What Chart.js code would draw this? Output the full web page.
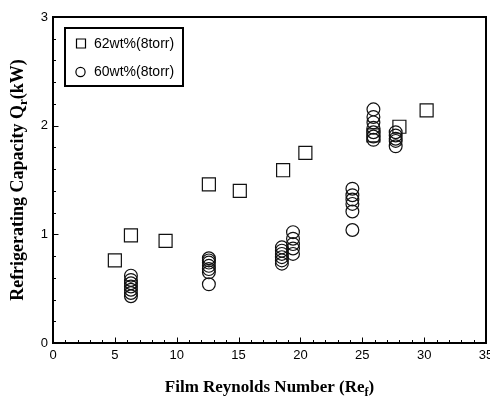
<!DOCTYPE html>
<html>
<head>
<meta charset="utf-8">
<script src="https://cdn.jsdelivr.net/npm/chart.js@4"></script>
<style>
  html, body { margin: 0; padding: 0; background: #fff; }
</style>
</head>
<body>
<canvas id="capacityChart" width="490" height="399"></canvas>
<script>
// 62wt% (8 torr) - squares
const re62 = [5.0, 6.3, 9.1, 12.6, 15.1, 18.6, 20.4, 25.9, 28.0, 30.2];
const q62 = [0.76, 0.99, 0.94, 1.46, 1.40, 1.59, 1.75, 1.91, 1.99, 2.14];

// 60wt% (8 torr) - circles
const re60 = [
  6.3, 6.3, 6.3, 6.3, 6.3, 6.3, 6.3,
  12.6, 12.6, 12.6, 12.6, 12.6, 12.6, 12.6,
  18.5, 18.5, 18.5, 18.5, 18.5, 18.5,
  19.4, 19.4, 19.4, 19.4, 19.4,
  24.2, 24.2, 24.2, 24.2, 24.2, 24.2,
  25.9, 25.9, 25.9, 25.9, 25.9, 25.9, 25.9,
  27.7, 27.7, 27.7, 27.7, 27.7
];
const q60 = [
  0.62, 0.58, 0.55, 0.52, 0.49, 0.46, 0.43,
  0.78, 0.76, 0.74, 0.71, 0.68, 0.65, 0.54,
  0.88, 0.85, 0.82, 0.79, 0.76, 0.73,
  1.02, 0.96, 0.91, 0.87, 0.82,
  1.42, 1.36, 1.32, 1.28, 1.21, 1.04,
  2.15, 2.08, 2.03, 1.98, 1.94, 1.90, 1.87,
  1.94, 1.91, 1.88, 1.86, 1.81
];

const seriesLabels = ["62wt%(8torr)", "60wt%(8torr)"];
const xTickStep = 5;
const yTickStep = 1;

const sansFont = "'Liberation Sans', Arial, sans-serif";
const serifFont = "'Liberation Serif', 'Times New Roman', serif";

function toPoints(xs, ys) {
  return xs.map((x, i) => ({ x: x, y: ys[i] }));
}

// frame, inward ticks, legend box and axis titles with subscripts
const decorations = {
  id: "decorations",
  afterDraw(chart) {
    const ctx = chart.ctx;
    const area = chart.chartArea;
    const xs = chart.scales.x;
    const ys = chart.scales.y;
    ctx.save();
    ctx.strokeStyle = "#000";

    // ticks
    ctx.lineWidth = 1;
    ctx.beginPath();
    for (let v = 0; v <= 35; v++) {
      const px = Math.round(xs.getPixelForValue(v)) + 0.5;
      const len = v % 5 === 0 ? 5.5 : 3;
      ctx.moveTo(px, area.bottom);
      ctx.lineTo(px, area.bottom - len);
    }
    for (let i = 0; i <= 15; i++) {
      const py = Math.round(ys.getPixelForValue(i * 0.2)) + 0.5;
      const len = i % 5 === 0 ? 5.5 : 3;
      ctx.moveTo(area.left, py);
      ctx.lineTo(area.left + len, py);
    }
    ctx.stroke();

    // plot frame
    ctx.lineWidth = 2;
    ctx.strokeRect(area.left, area.top, area.right - area.left, area.bottom - area.top);

    // legend
    ctx.strokeRect(65, 28, 118, 58);
    ctx.lineWidth = 1.2;
    ctx.font = "14px " + sansFont;
    ctx.fillStyle = "#000";
    ctx.textBaseline = "middle";
    ctx.textAlign = "left";
    const rowY = [43.5, 72];
    chart.data.datasets.forEach((ds, i) => {
      const y = rowY[i];
      ctx.beginPath();
      if (ds.pointStyle === "rect") {
        ctx.rect(76.5, y - 4.5, 9, 9);
      } else {
        ctx.arc(80.5, y, 4.6, 0, Math.PI * 2);
      }
      ctx.stroke();
      ctx.fillText(ds.label, 94, y + 0.5);
    });

    // x title: Film Reynolds Number (Re_f)
    const bigX = "bold 17px " + serifFont;
    const subX = "bold 12px " + serifFont;
    ctx.textBaseline = "alphabetic";
    ctx.font = bigX;
    const xa = "Film Reynolds Number (Re";
    const xb = ")";
    const wa = ctx.measureText(xa).width;
    const wb = ctx.measureText(xb).width;
    ctx.font = subX;
    const wf = ctx.measureText("f").width;
    let tx = (area.left + area.right) / 2 - (wa + wf + wb) / 2;
    const ty = 392;
    ctx.font = bigX;
    ctx.fillText(xa, tx, ty);
    ctx.font = subX;
    ctx.fillText("f", tx + wa, ty + 3.5);
    ctx.font = bigX;
    ctx.fillText(xb, tx + wa + wf, ty);

    // y title: Refrigerating Capacity Q_r(kW)
    const bigY = "bold 18px " + serifFont;
    const subY = "bold 13px " + serifFont;
    ctx.font = bigY;
    const ya = "Refrigerating Capacity Q";
    const yb = "(kW)";
    const ha = ctx.measureText(ya).width;
    const hb = ctx.measureText(yb).width;
    ctx.font = subY;
    const hr = ctx.measureText("r").width;
    ctx.translate(23, (area.top + area.bottom) / 2);
    ctx.rotate(-Math.PI / 2);
    let sx = -(ha + hr + hb) / 2;
    ctx.font = bigY;
    ctx.fillText(ya, sx, 0);
    ctx.font = subY;
    ctx.fillText("r", sx + ha, 4);
    ctx.font = bigY;
    ctx.fillText(yb, sx + ha + hr, 0);

    ctx.restore();
  }
};

const ctx = document.getElementById("capacityChart").getContext("2d");

new Chart(ctx, {
  type: "scatter",
  data: {
    datasets: [
      {
        label: seriesLabels[0],
        data: toPoints(re62, q62),
        pointStyle: "rect",
        pointRadius: 9.2,
        borderColor: "#111",
        backgroundColor: "rgba(0,0,0,0)",
        borderWidth: 1.2,
      },
      {
        label: seriesLabels[1],
        data: toPoints(re60, q60),
        pointStyle: "circle",
        pointRadius: 6.4,
        borderColor: "#111",
        backgroundColor: "rgba(0,0,0,0)",
        borderWidth: 1.2,
      },
    ],
  },
  options: {
    responsive: false,
    animation: false,
    layout: { autoPadding: false, padding: { top: 17, right: 4, left: 0, bottom: 0 } },
    plugins: {
      legend: { display: false },
      tooltip: { enabled: false },
    },
    scales: {
      x: {
        type: "linear",
        min: 0,
        max: 35,
        grid: { display: false, drawTicks: false },
        border: { display: false },
        ticks: { stepSize: xTickStep, padding: 5, color: "#000", font: { family: sansFont, size: 13 } },
        afterFit(scale) {
          scale.height = 56;
          scale.paddingLeft = 0;
          scale.paddingRight = 0;
        },
      },
      y: {
        min: 0,
        max: 3,
        grid: { display: false, drawTicks: false },
        border: { display: false },
        ticks: { stepSize: yTickStep, padding: 5, color: "#000", font: { family: sansFont, size: 13 } },
        afterFit(scale) {
          scale.width = 53;
          scale.paddingTop = 0;
          scale.paddingBottom = 0;
        },
      },
    },
  },
  plugins: [decorations],
});
</script>
</body>
</html>
